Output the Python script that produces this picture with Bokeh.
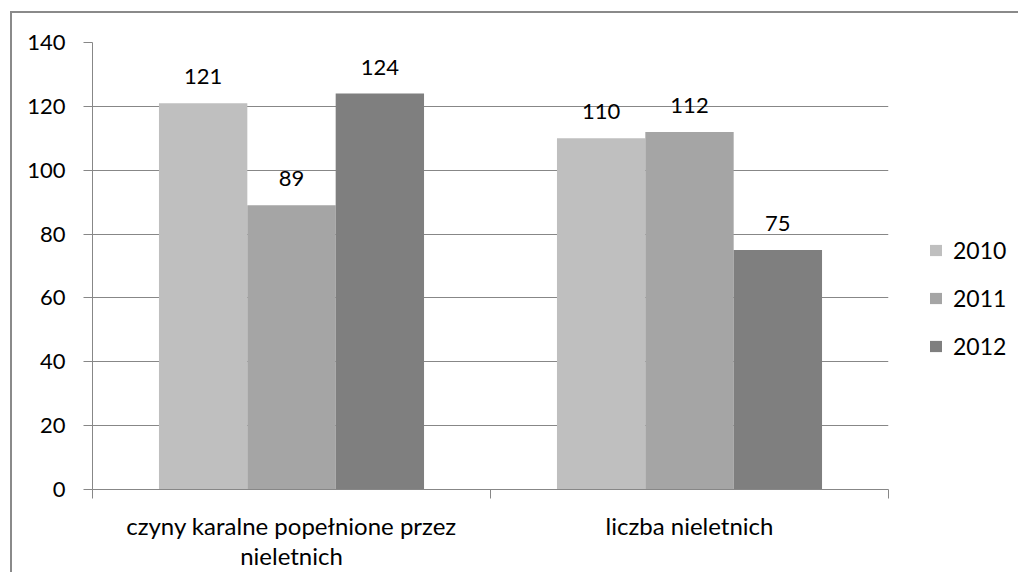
from bokeh.plotting import figure
from bokeh.models import (ColumnDataSource, Range1d, LinearAxis, FixedTicker,
                          Legend, LegendItem, LabelSet)
from bokeh.core.properties import value
from bokeh.transform import dodge
from bokeh.embed import file_html
from bokeh.resources import INLINE

categories = ["czyny karalne popełnione przez\nnieletnich", "liczba nieletnich"]
years = ["2010", "2011", "2012"]
v2010 = [121, 110]
v2011 = [89, 112]
v2012 = [124, 75]
colors = ["#bfbfbf", "#a5a5a5", "#7f7f7f"]
y_ticks = [0, 20, 40, 60, 80, 100, 120, 140]

FONT = "Lato"
FS_TXT = "24px"
FS_NUM = "22px"
FS_LEG = "23px"
GRID = "#878787"

n = len(categories)
cat_x = [i + 0.5 for i in range(n)]
src = ColumnDataSource(dict(x=cat_x, v2010=v2010, v2011=v2011, v2012=v2012,
                            l2010=[str(v) for v in v2010], l2011=[str(v) for v in v2011],
                            l2012=[str(v) for v in v2012]))

p = figure(x_range=Range1d(0, n), y_range=Range1d(0, 140),
           frame_width=796, frame_height=447, output_backend="svg", toolbar_location=None,
           x_axis_location=None, y_axis_location="left")
p.min_border_left = 80
p.min_border_right = 122
p.min_border_top = 29
p.min_border_bottom = 80
p.border_fill_color = "white"
p.background_fill_color = "white"
p.outline_line_color = None
# outer chart border: left and top edges only (right/bottom lie beyond the picture)
p.styles = {"margin-left": "12px", "margin-top": "13px",
            "box-shadow": "-2px 0 0 0 #8a8a8a, 0 -2px 0 0 #8a8a8a, -2px -2px 0 0 #8a8a8a"}

w = 0.222
renderers = []
for i, (yr, col) in enumerate(zip(years, colors)):
    off = (i - 1) * w
    r = p.vbar(x=dodge("x", off), top="v" + yr, width=w, source=src,
               fill_color=col, line_color=None)
    renderers.append(r)
    lbl = LabelSet(x=dodge("x", off), y="v" + yr, text="l" + yr, source=src,
                   text_align="center", text_baseline="alphabetic", y_offset=19,
                   text_font=value(FONT), text_font_size=value(FS_NUM), text_color="#000000")
    p.add_layout(lbl)

# y axis
yax = p.yaxis[0]
yax.ticker = FixedTicker(ticks=y_ticks)
yax.axis_line_color = GRID
yax.major_tick_line_color = GRID
yax.major_tick_out = 9
yax.major_tick_in = 0
yax.minor_tick_line_color = None
yax.major_label_standoff = 18
yax.major_label_text_font = FONT
yax.major_label_text_font_size = FS_NUM
yax.major_label_text_color = "#000000"

p.ygrid.ticker = FixedTicker(ticks=y_ticks)
p.ygrid.grid_line_color = GRID
p.xgrid.grid_line_color = None

# x axis: labels at category centres, tick marks at category boundaries
cax = LinearAxis(ticker=FixedTicker(ticks=cat_x, minor_ticks=list(range(n + 1))),
                 major_label_overrides={x: c for x, c in zip(cat_x, categories)})
cax.axis_line_color = GRID
cax.major_tick_line_color = None
cax.major_tick_out = 0
cax.major_tick_in = 0
cax.minor_tick_line_color = GRID
cax.minor_tick_out = 9
cax.minor_tick_in = 0
cax.major_label_standoff = 12
cax.major_label_text_font = FONT
cax.major_label_text_font_size = FS_TXT
cax.major_label_text_color = "#000000"
cax.major_label_text_line_height = 1.04
p.add_layout(cax, "below")

legend = Legend(items=[LegendItem(label=yr, renderers=[r]) for yr, r in zip(years, renderers)],
                location=(40, 129), orientation="vertical")
legend.glyph_width = 15
legend.glyph_height = 14
legend.label_height = 20
legend.spacing = 20
legend.padding = 0
legend.margin = 0
legend.label_standoff = 10
legend.border_line_color = None
legend.background_fill_alpha = 0
legend.label_text_font = FONT
legend.label_text_font_size = FS_LEG
legend.label_text_color = "#000000"
p.add_layout(legend, "right")

open("out.html", "w").write(file_html(p, INLINE))
